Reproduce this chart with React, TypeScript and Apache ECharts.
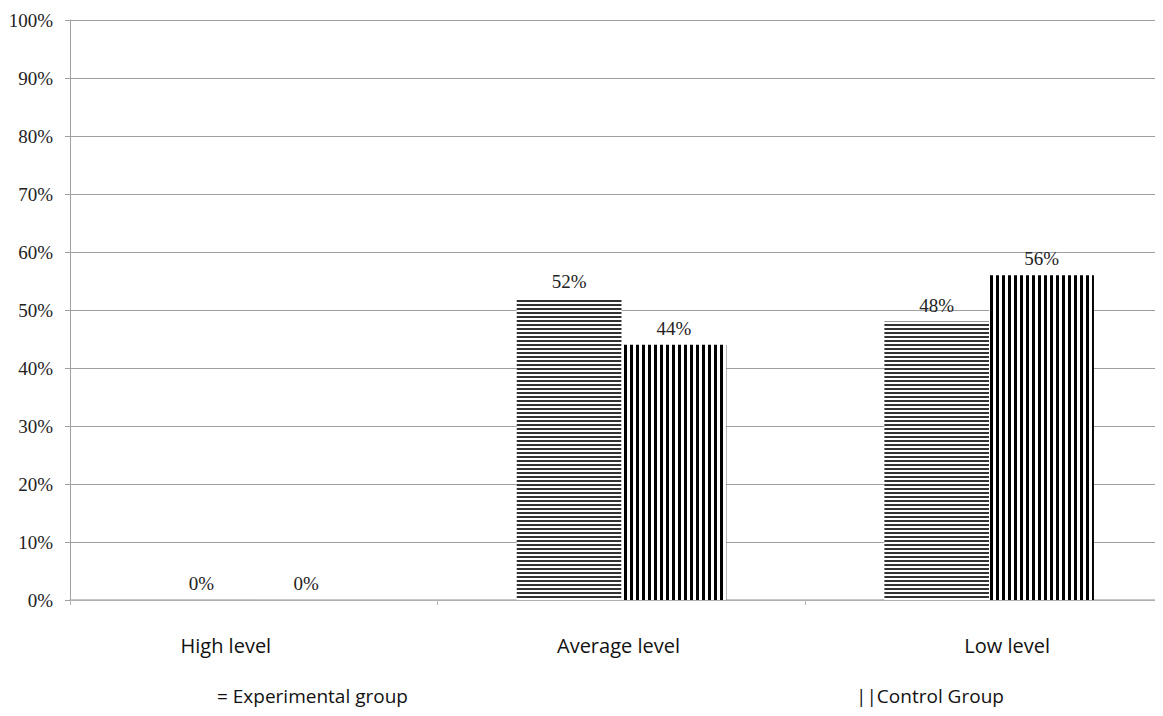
import React, { useEffect, useRef } from "react";
import * as echarts from "echarts";

const categories = ["High level", "Average level", "Low level"];
const experimental = [0, 52, 48];
const control = [0, 44, 56];
const seriesNames = ["Experimental group", "Control Group"];

export default function App() {
  const ref = useRef<HTMLDivElement>(null);
  useEffect(() => {
    if (!ref.current) return;
    const chart = echarts.init(ref.current, null, { renderer: "svg" });
    const labelStyle = {
      show: true,
      position: "top",
      distance: 7,
      formatter: "{c}%",
      fontFamily: "Liberation Serif",
      fontSize: 19,
      color: "#222",
    };
    // small horizontal nudges of the category labels, as in the original
    const labelShift = [-28, -3, 18];
    const axisData = categories.map((c, i) => ({
      value: c,
      textStyle: {
        padding:
          labelShift[i] < 0
            ? [0, -2 * labelShift[i], 0, 0]
            : [0, 0, 0, 2 * labelShift[i]],
      },
    }));
    const legendText = { fontFamily: "Open Sans", fontSize: 19, color: "#111" };
    chart.setOption({
      animation: false,
      backgroundColor: "#fff",
      grid: { left: 70, right: 0, top: 20, bottom: 116 },
      legend: [
        {
          data: [seriesNames[0]],
          left: 207,
          top: 681,
          icon: "none",
          itemWidth: 0,
          itemGap: 0,
          selectedMode: false,
          formatter: "= {name}",
          textStyle: legendText,
        },
        {
          data: [seriesNames[1]],
          left: 846,
          top: 681,
          icon: "none",
          itemWidth: 0,
          itemGap: 0,
          selectedMode: false,
          formatter: "||{name}",
          textStyle: legendText,
        },
      ],
      xAxis: {
        type: "category",
        data: axisData,
        axisLine: { lineStyle: { color: "#b4b4b4", width: 1.5 } },
        axisTick: { show: true, length: 5, lineStyle: { color: "#b4b4b4" } },
        axisLabel: {
          margin: 35,
          fontFamily: "Open Sans",
          fontSize: 20,
          color: "#111",
        },
      },
      yAxis: {
        type: "value",
        min: 0,
        max: 100,
        interval: 10,
        axisLabel: {
          formatter: "{value}%",
          fontFamily: "Liberation Serif",
          fontSize: 19,
          color: "#222",
          margin: 17,
        },
        axisLine: { show: true, lineStyle: { color: "#a0a0a0" } },
        axisTick: { show: true, length: 5, lineStyle: { color: "#a0a0a0" } },
        splitLine: { lineStyle: { color: "#a0a0a0" } },
      },
      series: [
        {
          name: seriesNames[0],
          type: "bar",
          data: experimental,
          barGap: "0%",
          barCategoryGap: "43%",
          itemStyle: {
            color: "#fff",
            decal: {
              symbol: "rect",
              symbolSize: 1,
              color: "#333",
              dashArrayX: [1, 0],
              dashArrayY: [1.4, 2],
              rotation: 0,
            },
          },
          label: labelStyle,
        },
        {
          name: seriesNames[1],
          type: "bar",
          data: control,
          itemStyle: {
            color: "#fff",
            decal: {
              symbol: "rect",
              symbolSize: 1,
              color: "#000",
              dashArrayX: [2.2, 2.2],
              dashArrayY: [1, 0],
              rotation: 0,
            },
          },
          label: labelStyle,
        },
      ],
    });
    return () => chart.dispose();
  }, []);
  return (
    <div style={{ width: 1163, height: 716, margin: -8, overflow: "hidden" }}>
      <div ref={ref} style={{ width: 1173, height: 716 }} />
    </div>
  );
}
